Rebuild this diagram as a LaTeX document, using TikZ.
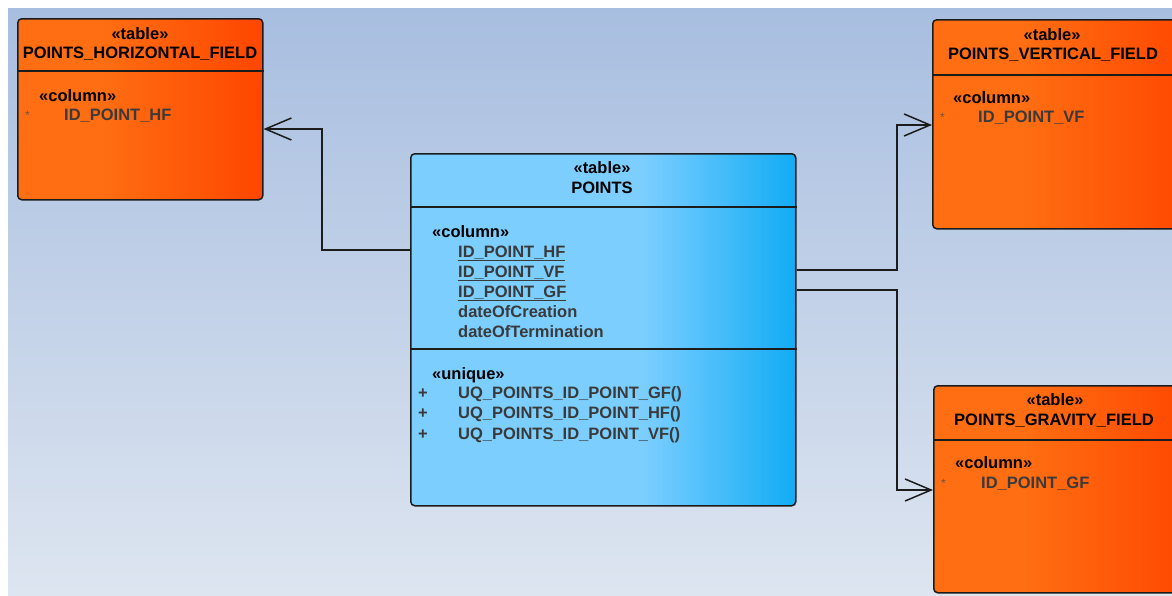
\documentclass[tikz,border=0pt]{standalone}
\usepackage{fontspec}
\setmainfont{Liberation Sans}
\usetikzlibrary{arrows.meta}
\definecolor{orangeleft}{RGB}{255,110,18}
\definecolor{orangeright}{RGB}{255,70,0}
\definecolor{blueleft}{RGB}{124,206,255}
\definecolor{blueright}{RGB}{18,172,244}
\definecolor{bgtop}{RGB}{168,190,224}
\definecolor{bgbottom}{RGB}{221,229,240}
\definecolor{itemgray}{RGB}{58,58,58}
\definecolor{stargray}{RGB}{105,85,70}
\definecolor{edgegray}{RGB}{28,28,28}
\pgfdeclarehorizontalshading{orangeshade}{100bp}{color(0bp)=(orangeleft); color(25bp)=(orangeleft); color(42bp)=(orangeleft); color(75bp)=(orangeright); color(100bp)=(orangeright)}
\pgfdeclarehorizontalshading{blueshade}{100bp}{color(0bp)=(blueleft); color(25bp)=(blueleft); color(55bp)=(blueleft); color(75bp)=(blueright); color(100bp)=(blueright)}
\begin{document}
\begin{tikzpicture}
    [
    x=1pt,y=-1pt,
    font=\fontsize{16.5}{19}\selectfont\bfseries,
    tablebox/.style={draw=edgegray,line width=1.5pt,rounded corners=4pt,anchor=north west,inner sep=0pt},
    orangebox/.style={tablebox,shading=orangeshade},
    bluebox/.style={tablebox,shading=blueshade},
    divider/.style={draw=edgegray,line width=1.5pt},
    title/.style={anchor=base,inner sep=0pt},
    stereo/.style={anchor=base west,inner sep=0pt},
    item/.style={anchor=base west,inner sep=0pt,text=itemgray},
    flag/.style={anchor=base west,inner sep=0pt,text=itemgray},
    star/.style={anchor=base west,inner sep=0pt,text=stargray,font=\fontsize{12}{14}\selectfont},
    assoc/.style={draw=edgegray,line width=1.5pt,-{Straight Barb[length=26pt,width=22pt]}}
    ]
    \useasboundingbox (0,0) rectangle (1172,595);
    \clip (0,0) rectangle (1172,595);
    \fill[white] (0,0) rectangle (1172,595);
    \shade[top color=bgtop,bottom color=bgbottom] (8,8) rectangle (1172,595);

    \node (hf) at (17,18) [orangebox,minimum width=245pt,minimum height=181pt] {};
    \node (vf) at (932,19) [orangebox,minimum width=262pt,minimum height=209pt] {};
    \node (gf) at (933,385) [orangebox,minimum width=262pt,minimum height=207pt] {};
    \node (pts) at (410,153) [bluebox,minimum width=385pt,minimum height=352pt] {};

    \draw [divider] (hf.west |- 0,71) -- (hf.east |- 0,71);
    \draw [divider] (vf.west |- 0,75) -- (vf.east |- 0,75);
    \draw [divider] (gf.west |- 0,440) -- (gf.east |- 0,440);
    \draw [divider] (pts.west |- 0,207) -- (pts.east |- 0,207);
    \draw [divider] (pts.west |- 0,349) -- (pts.east |- 0,349);

    \node (hftag) at (140,39) [title] {«table»};
    \node (hfname) at (140,58) [title] {POINTS\_HORIZONTAL\_FIELD};
    \node (hfcol) at (39,101) [stereo] {«column»};
    \node (hfstar) at (25,119) [star] {*};
    \node (hfid) at (64,120) [item] {ID\_POINT\_HF};

    \node (vftag) at (1052,40) [title] {«table»};
    \node (vfname) at (1053,59) [title] {POINTS\_VERTICAL\_FIELD};
    \node (vfcol) at (953,103) [stereo] {«column»};
    \node (vfstar) at (940,121) [star] {*};
    \node (vfid) at (978,122) [item] {ID\_POINT\_VF};

    \node (gftag) at (1055,405) [title] {«table»};
    \node (gfname) at (1054,425) [title] {POINTS\_GRAVITY\_FIELD};
    \node (gfcol) at (955,468) [stereo] {«column»};
    \node (gfstar) at (941,487) [star] {*};
    \node (gfid) at (981,488) [item] {ID\_POINT\_GF};

    \node (ptstag) at (602,173) [title] {«table»};
    \node (ptsname) at (602,193) [title] {POINTS};
    \node (ptscol) at (432,237) [stereo] {«column»};
    \node (ptshf) at (458,257) [item] {\underline{ID\_POINT\_HF}};
    \node (ptsvf) at (458,277) [item] {\underline{ID\_POINT\_VF}};
    \node (ptsgf) at (458,297) [item] {\underline{ID\_POINT\_GF}};
    \node (ptsdoc) at (458,317) [item] {dateOfCreation};
    \node (ptsdot) at (458,337) [item] {dateOfTermination};
    \node (ptsuq) at (432,379) [stereo] {«unique»};
    \node (plusgf) at (418,398) [flag] {+};
    \node (uqgf) at (458,398) [item] {UQ\_POINTS\_ID\_POINT\_GF()};
    \node (plushf) at (418,418) [flag] {+};
    \node (uqhf) at (458,418) [item] {UQ\_POINTS\_ID\_POINT\_HF()};
    \node (plusvf) at (418,439) [flag] {+};
    \node (uqvf) at (458,439) [item] {UQ\_POINTS\_ID\_POINT\_VF()};

    \draw [assoc] (pts.west |- 0,250) -| (322,129) -- (hf.east |- 0,129);
    \draw [assoc] (pts.east |- 0,270) -| (897,125) -- (vf.west |- 0,125);
    \draw [assoc] (pts.east |- 0,290) -| (897,490) -- (gf.west |- 0,490);
  \end{tikzpicture}
\end{document}
